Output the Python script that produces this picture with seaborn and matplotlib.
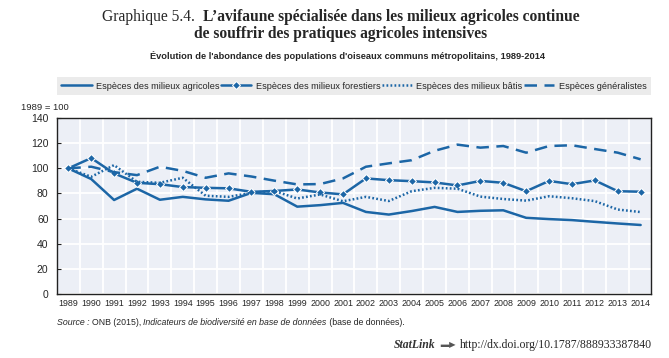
import pandas as pd
import matplotlib.pyplot as plt
import seaborn as sns

# -----------------------------
# Data (1989 = 100)
# -----------------------------
years = list(range(1989, 2015))

agricoles = [100, 91.5, 74.8, 83.8, 75, 77.3, 75.3, 74.2, 80.5, 79.4, 69.5, 70.7, 72.5, 65.3, 63.2,
             66, 69.3, 65.3, 66.2, 66.6, 60.6, 59.6, 58.8, 57.4, 56.1, 54.9]
forestiers = [100, 108.2, 96, 88.5, 87.4, 85.1, 84.5, 84.1, 81.3, 82, 83.2, 80.8, 79.3, 92, 90.6,
              89.8, 88.8, 86.4, 90, 88.5, 81.8, 90, 87.4, 90.4, 81.8, 81.4]
batis = [100, 93.3, 102.6, 89.3, 88.5, 92.5, 78.2, 77.3, 80.5, 82, 76, 79.2, 73.8, 77.3, 74,
         81.8, 84.5, 83.8, 77.5, 75.6, 74.3, 77.8, 76.2, 73.9, 67.2, 65.2]
generalistes = [100, 101.3, 97, 94.6, 101.3, 98, 92.5, 96, 93.5, 90.2, 87.2, 87.5, 92, 101.3, 104,
                106.5, 114, 118.9, 116.5, 117.8, 112.5, 117.8, 118.4, 115.4, 112.5, 107.2]

labels = ["Espèces des milieux agricoles", "Espèces des milieux forestiers",
          "Espèces des milieux bâtis", "Espèces généralistes"]
yticks = [0, 20, 40, 60, 80, 100, 120, 140]

df = pd.DataFrame({
    "année": years * 4,
    "indice": agricoles + forestiers + batis + generalistes,
    "série": [lab for lab in labels for _ in years],
})

# -----------------------------
# Style
# -----------------------------
blue = "#1c66a6"
sns.set_style("darkgrid", {"axes.facecolor": "#eceff6", "grid.color": "white",
                           "axes.edgecolor": "#222222"})
plt.rcParams["font.family"] = ["Liberation Sans", "DejaVu Sans"]

fig = plt.figure(figsize=(6.69, 3.58), dpi=100)
ax = fig.add_axes([0.085, 0.179, 0.888, 0.491])

styles = {
    labels[0]: dict(linestyle="-", marker=None),
    labels[1]: dict(linestyle="-", marker="D", markersize=4),
    labels[2]: dict(linestyle=(0, (0.7, 0.9)), marker=None),
    labels[3]: dict(linestyle=(0, (5, 3)), marker=None),
}

for lab in labels:
    sns.lineplot(data=df[df["série"] == lab], x="année", y="indice", color=blue,
                 linewidth=1.8, label=lab, ax=ax, **styles[lab])

# axes
ax.set_xlim(1988.5, 2014.45)
ax.set_ylim(0, 140)
ax.set_xticks(years)
ax.set_xticklabels([str(y) for y in years], fontsize=6.4)
ax.set_xticks([y + 0.5 for y in years[:-1]], minor=True)
ax.set_yticks(yticks)
ax.set_yticklabels([str(v) for v in yticks], fontsize=7.5)
ax.tick_params(axis="x", which="major", length=0, pad=4)
ax.tick_params(axis="x", which="minor", direction="in", length=3, color="#222222")
ax.tick_params(axis="y", direction="in", length=3, color="#222222", left=True, pad=6)
ax.grid(False, axis="x", which="major")
ax.grid(True, axis="x", which="minor", color="white", linewidth=1.3)
ax.grid(True, axis="y", which="major", color="white", linewidth=1.3)
ax.set_xlabel("")
ax.set_ylabel("")
for sp in ax.spines.values():
    sp.set_visible(True)
    sp.set_linewidth(1.0)

# legend
leg = ax.legend(loc="lower left", bbox_to_anchor=(0, 1.13, 1, 0.1), ncol=4, mode="expand",
                frameon=True, fancybox=False, facecolor="#e6e6e6", edgecolor="#e6e6e6",
                fontsize=6.6, handlelength=3.3, handletextpad=0.5, borderaxespad=0,
                borderpad=0.5, columnspacing=0.8)
leg.get_frame().set_linewidth(0)

fig.text(0.032, 0.70, "1989 = 100", fontsize=6.8, va="center")

# -----------------------------
# Title lines with mixed weights
# -----------------------------
renderer = fig.canvas.get_renderer()


def text_row(parts, y, center=None, x0=None, right=None, **kw):
    objs = [fig.text(0, y, s, **{**kw, **p}) for s, p in parts]
    widths = [o.get_window_extent(renderer).width / fig.bbox.width for o in objs]
    if center is not None:
        x = center - sum(widths) / 2
    elif right is not None:
        x = right - sum(widths)
    else:
        x = x0
    for o, w in zip(objs, widths):
        o.set_x(x)
        x += w


serif = ["Liberation Serif", "DejaVu Serif"]
text_row([("Graphique 5.4.  ", {}),
          ("L\u2019avifaune spécialisée dans les milieux agricoles continue", {"fontweight": "bold"})],
         0.952, center=0.509, fontsize=11.2, family=serif, va="center")
text_row([("de souffrir des pratiques agricoles intensives", {"fontweight": "bold"})],
         0.905, center=0.509, fontsize=11.2, family=serif, va="center")
fig.text(0.52, 0.843, "Évolution de l'abondance des populations d'oiseaux communs métropolitains, 1989-2014",
         fontsize=6.7, fontweight="bold", ha="center", va="center")

text_row([("Source : ", {"style": "italic"}), ("ONB (2015), ", {}),
          ("Indicateurs de biodiversité en base de données", {"style": "italic"}),
          (" (base de données).", {})],
         0.1, x0=0.085, fontsize=6.3, va="center")

text_row([("StatLink", {"style": "italic", "fontweight": "bold", "family": serif, "color": "#333333"}),
          ("  \u25ac\u25b6  ", {"color": "#555555", "fontsize": 6}),
          ("http://dx.doi.org/10.1787/888933387840", {"family": serif})],
         0.035, right=0.975, fontsize=8.5, va="center")

fig.savefig("out.png", dpi=100)
